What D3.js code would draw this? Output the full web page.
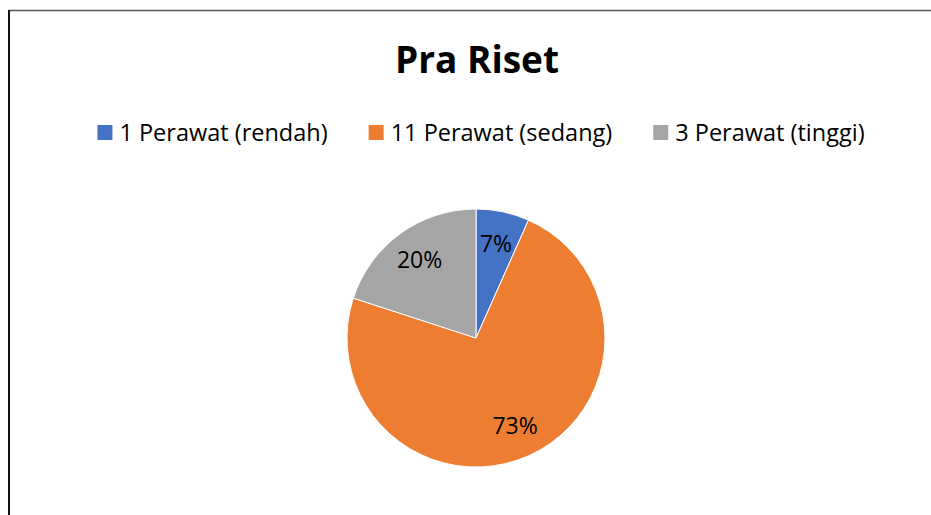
<!DOCTYPE html>
<html>
<head>
<meta charset="utf-8">
<script src="https://cdn.jsdelivr.net/npm/d3@7"></script>
<style>
  body { margin: 0; background: #fff; }
  svg { display: block; font-family: "Open Sans", "Liberation Sans", sans-serif; }
</style>
</head>
<body>
<svg id="chart" width="931" height="515"></svg>
<script>
const TITLE = "Pra Riset";
const categories = ["1 Perawat (rendah)", "11 Perawat (sedang)", "3 Perawat (tinggi)"];
const counts = [1, 11, 3];
const colors = ["#4472C4", "#ED7D31", "#A5A5A5"];

var width = 931, height = 515;
var svg = d3.select("#chart");

// chart border (only left and top edges show in the crop)
svg.append("rect")
    .attr("x", 9)
    .attr("y", 10.5)
    .attr("width", 940)
    .attr("height", 520)
    .attr("fill", "none")
    .attr("stroke", "#595959")
    .attr("stroke-width", 1.5);
svg.append("line")
    .attr("x1", 9).attr("x2", 9)
    .attr("y1", 10).attr("y2", height)
    .attr("stroke", "#111")
    .attr("stroke-width", 2);

var cx = 476, cy = 338, radius = 129;

svg.append("text")
    .attr("x", cx + 1)
    .attr("y", 73)
    .attr("text-anchor", "middle")
    .style("font-size", "37px")
    .style("font-weight", "bold")
    .style("fill", "#000")
    .text(TITLE);

// legend, centred as a group
var legend = svg.append("g");
var items = legend.selectAll("g.item")
    .data(categories)
    .enter()
    .append("g")
    .attr("class", "item");
items.append("rect")
    .attr("width", 15)
    .attr("height", 15)
    .attr("y", -16)
    .attr("fill", function (d, i) { return colors[i]; });
items.append("text")
    .attr("x", 22)
    .attr("y", 0)
    .style("font-size", "23.5px")
    .style("fill", "#000")
    .text(function (d) { return d; });

var gap = 41, xpos = 0;
items.each(function () {
    var w = this.getBBox().width;
    d3.select(this).attr("transform", "translate(" + xpos + ",0)");
    xpos += w + gap;
});
var total = xpos - gap;
legend.attr("transform", "translate(" + (cx + 5 - total / 2) + ",141)");

// pie
var pie = d3.pie().sort(null);
var arc = d3.arc().innerRadius(0).outerRadius(radius);
var labelArc = d3.arc().innerRadius(96).outerRadius(96);
var sum = d3.sum(counts);

var g = svg.append("g")
    .attr("transform", "translate(" + cx + "," + cy + ")");

var arcs = g.selectAll("g.slice")
    .data(pie(counts))
    .enter()
    .append("g")
    .attr("class", "slice");

arcs.append("path")
    .attr("d", arc)
    .attr("fill", function (d, i) { return colors[i]; })
    .attr("stroke", "#fff")
    .attr("stroke-width", 1);

arcs.append("text")
    .attr("transform", function (d) {
        return "translate(" + labelArc.centroid(d) + ")";
    })
    .attr("text-anchor", "middle")
    .attr("dy", "0.35em")
    .style("font-size", "23px")
    .style("fill", "#000")
    .text(function (d) {
        return Math.round(d.data / sum * 100) + "%";
    });
</script>
</body>
</html>
